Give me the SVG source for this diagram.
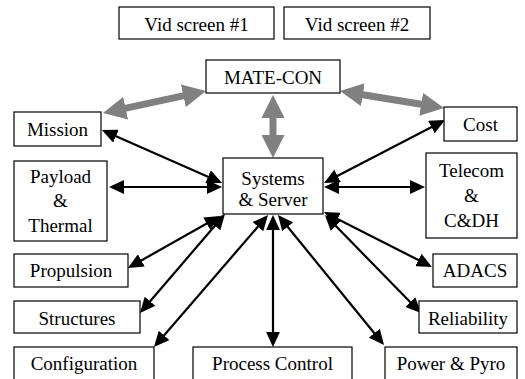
<svg xmlns="http://www.w3.org/2000/svg" width="525" height="379" viewBox="0 0 525 379">
<style>
rect{fill:#fff;stroke:#000;stroke-width:1.2}
text{font-family:"Liberation Serif","Times New Roman",serif;font-size:19px;fill:#000;text-anchor:middle}
.blk{stroke:#000;stroke-width:2.2;fill:none;marker-start:url(#bh);marker-end:url(#bh)}
.gry{stroke:#808080;stroke-width:7;fill:none;marker-start:url(#gh);marker-end:url(#gh)}
</style>
<defs>
<marker id="bh" markerWidth="7" markerHeight="6.4" refX="5.6" refY="3.2" orient="auto-start-reverse"><path d="M0,0 L7,3.2 L0,6.4 z" fill="#000"/></marker>
<marker id="gh" markerWidth="3.3" markerHeight="3.3" refX="1.8" refY="1.65" orient="auto-start-reverse"><path d="M0,0 L3.3,1.65 L0,3.3 z" fill="#808080"/></marker>
</defs>
<rect width="525" height="379" style="stroke:none"/>
<g id="connectors">
<line class="gry" x1="113.3" y1="110.8" x2="195.7" y2="93.2"/>
<line class="gry" x1="350.4" y1="92.7" x2="433.6" y2="106.3"/>
<line class="gry" x1="273" y1="105.5" x2="273" y2="147.5"/>
<line class="blk" x1="104.7" y1="131.2" x2="219.3" y2="181.8"/>
<line class="blk" x1="112" y1="187" x2="219" y2="187"/>
<line class="blk" x1="442.3" y1="121.4" x2="326.7" y2="181.6"/>
<line class="blk" x1="422" y1="187" x2="327" y2="187"/>
<line class="blk" x1="130.6" y1="266.5" x2="217.4" y2="217.5"/>
<line class="blk" x1="142" y1="310.7" x2="223" y2="216.3"/>
<line class="blk" x1="156" y1="344.7" x2="266" y2="217.3"/>
<line class="blk" x1="273" y1="344" x2="273" y2="218"/>
<line class="blk" x1="382.1" y1="342.7" x2="279.9" y2="217.3"/>
<line class="blk" x1="429.3" y1="265.6" x2="326.7" y2="213.4"/>
<line class="blk" x1="418.9" y1="310.9" x2="327.1" y2="217.1"/>
</g>
<g id="vid1"><rect x="119" y="7" width="155" height="32"/><text x="196.5" y="31">Vid screen #1</text></g>
<g id="vid2"><rect x="284" y="7" width="146" height="32"/><text x="357" y="31">Vid screen #2</text></g>
<g id="matecon"><rect x="206" y="60" width="134" height="33"/><text x="273" y="84">MATE-CON</text></g>
<g id="mission"><rect x="14" y="112" width="87" height="34"/><text x="57.5" y="136">Mission</text></g>
<g id="cost"><rect x="444" y="107" width="73" height="34"/><text x="480.5" y="131">Cost</text></g>
<g id="payload"><rect x="14" y="161" width="93" height="80"/><text x="60.5" y="183">Payload</text><text x="60.5" y="207">&amp;</text><text x="60.5" y="232">Thermal</text></g>
<g id="systems"><rect x="223" y="158" width="100" height="56"/><text x="273" y="185">Systems</text><text x="273" y="206">&amp; Server</text></g>
<g id="telecom"><rect x="426" y="153" width="91" height="85"/><text x="471.5" y="177">Telecom</text><text x="471.5" y="202">&amp;</text><text x="471.5" y="227">C&amp;DH</text></g>
<g id="propulsion"><rect x="14" y="254" width="114" height="33"/><text x="71" y="277">Propulsion</text></g>
<g id="adacs"><rect x="433" y="254" width="84" height="33"/><text x="475" y="277">ADACS</text></g>
<g id="structures"><rect x="14" y="301" width="126" height="32"/><text x="77" y="325">Structures</text></g>
<g id="reliability"><rect x="419" y="301" width="98" height="32"/><text x="468" y="325">Reliability</text></g>
<g id="configuration"><rect x="14" y="347" width="140" height="40"/><text x="84" y="370">Configuration</text></g>
<g id="process"><rect x="193" y="347" width="159" height="40"/><text x="272.5" y="370">Process Control</text></g>
<g id="power"><rect x="385" y="347" width="132" height="40"/><text x="451" y="370">Power &amp; Pyro</text></g>
</svg>
